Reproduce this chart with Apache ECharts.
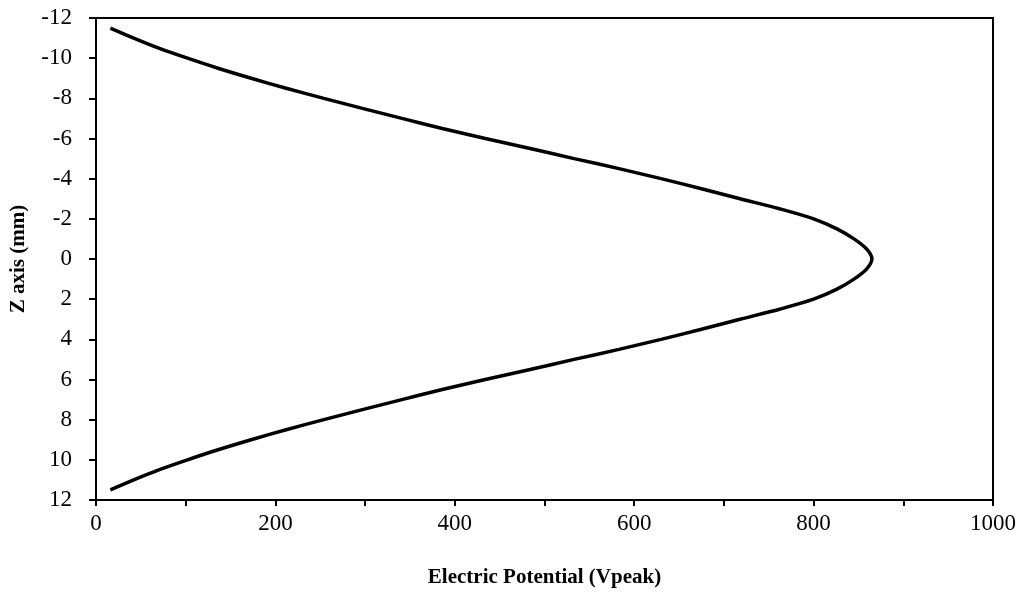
<!DOCTYPE html>
<html>
<head>
<meta charset="utf-8">
<script src="https://cdn.jsdelivr.net/npm/echarts@6/dist/echarts.min.js"></script>
<style>
html,body{margin:0;padding:0;background:#fff;}
#chart{width:1025px;height:596px;}
</style>
</head>
<body>
<div id="chart"></div>
<script>
// Z position (mm)
var zValues = [-11.5,-11,-10.5,-10,-9.5,-9,-8.5,-8,-7.5,-7,-6.5,-6,-5.5,-5,-4.5,-4,-3.5,-3,-2.5,-2,-1.5,-1,-0.5,0,
               0.5,1,1.5,2,2.5,3,3.5,4,4.5,5,5.5,6,6.5,7,7.5,8,8.5,9,9.5,10,10.5,11,11.5];
// Electric potential (Vpeak)
var potential = [16,42,70,102,136,173,212,254,297,341,386,434,484,533,583,630,675,718,762,800,826,845,859,865,
                 859,845,826,800,762,718,675,630,583,533,484,434,386,341,297,254,212,173,136,102,70,42,16];
var xTicks = {min:0, max:1000, interval:100, labelEvery:200};
var yTicks = {min:-12, max:12, interval:2};

var pts = zValues.map(function(z,i){return [potential[i], z];});
var font = '"Liberation Serif","Times New Roman",serif';

var chart = echarts.init(document.getElementById('chart'));
chart.setOption({
  animation:false,
  backgroundColor:'#fff',
  grid:{left:94,right:32,top:18,bottom:96,show:true,borderColor:'#000',borderWidth:2,backgroundColor:'transparent'},
  xAxis:{
    type:'value',min:xTicks.min,max:xTicks.max,interval:xTicks.interval,
    name:'Electric Potential (Vpeak)',nameLocation:'middle',nameGap:67,
    nameTextStyle:{fontFamily:font,fontSize:21,fontWeight:'bold',color:'#000'},
    axisLine:{show:true,onZero:false,lineStyle:{color:'#000',width:2}},
    axisTick:{show:true,inside:false,length:6,lineStyle:{color:'#000',width:2}},
    axisLabel:{fontFamily:font,fontSize:23,color:'#000',margin:12,
      formatter:function(v){return (v % xTicks.labelEvery === 0) ? String(v) : '';}},
    splitLine:{show:false}
  },
  yAxis:{
    type:'value',inverse:true,min:yTicks.min,max:yTicks.max,interval:yTicks.interval,
    name:'Z axis (mm)',nameLocation:'middle',nameGap:67,
    nameTextStyle:{fontFamily:font,fontSize:21,fontWeight:'bold',color:'#000'},
    axisLine:{show:true,onZero:false,lineStyle:{color:'#000',width:2}},
    axisTick:{show:true,inside:false,length:7,lineStyle:{color:'#000',width:2}},
    axisLabel:{fontFamily:font,fontSize:23,color:'#000',margin:24},
    splitLine:{show:false}
  },
  series:[{
    type:'line',data:pts,showSymbol:false,smooth:0.3,
    lineStyle:{color:'#000',width:3.5},clip:false
  }]
});
</script>
</body>
</html>
